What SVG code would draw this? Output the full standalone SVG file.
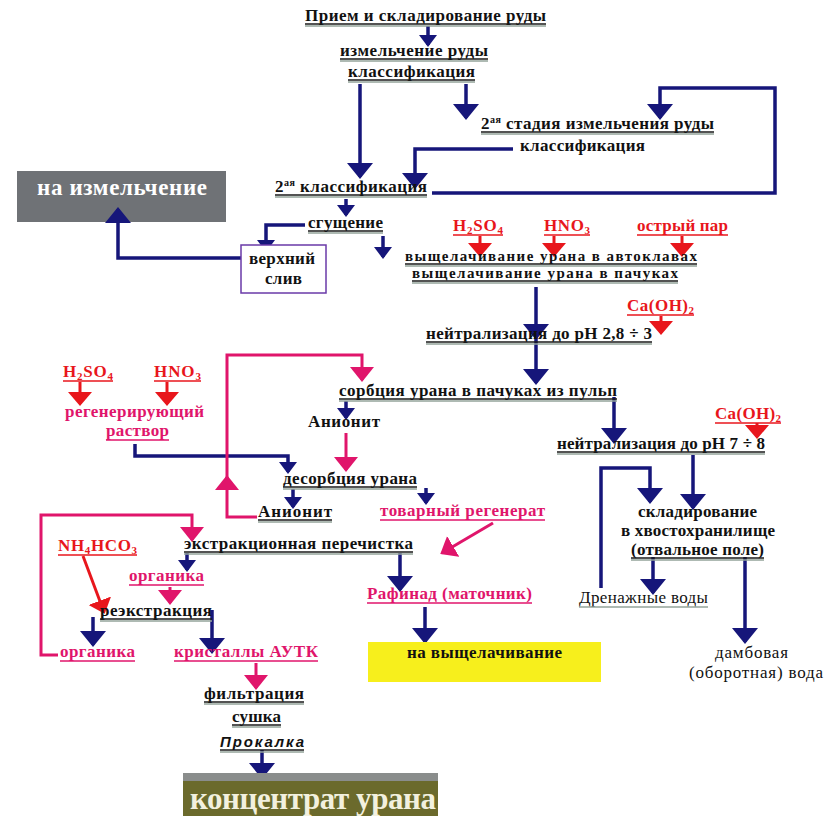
<svg xmlns="http://www.w3.org/2000/svg" width="831" height="835" viewBox="0 0 831 835">
<style>
text{font-family:"Liberation Serif","Times New Roman",serif;font-weight:bold;font-size:17px;fill:#111}
.r{fill:#e8161c}
.p{fill:#e0156b}
.reg{font-weight:normal}
.sm{font-size:15px}
.nl{fill:none;stroke:#16167a;stroke-width:3.5}
.rl{fill:none;stroke:#e8161c;stroke-width:3}
.pl{fill:none;stroke:#e0156b;stroke-width:3}
.ul{stroke:#1a1a1a;stroke-width:1.4}
.us{stroke:#93a39a;stroke-width:1.6}
.ur{stroke:#e8161c;stroke-width:1.4}
.up{stroke:#e0156b;stroke-width:1.4}
</style>
<defs>
<marker id="nb" viewBox="0 -13 16 26" refX="14" refY="0" markerWidth="16" markerHeight="26" markerUnits="userSpaceOnUse" orient="auto"><path d="M0,-13 L16,0 L0,13 z" fill="#16167a"/></marker>
<marker id="ns" viewBox="0 -9 12 18" refX="10" refY="0" markerWidth="12" markerHeight="18" markerUnits="userSpaceOnUse" orient="auto"><path d="M0,-9 L12,0 L0,9 z" fill="#16167a"/></marker>
<marker id="rb" viewBox="0 -12 14 24" refX="12" refY="0" markerWidth="14" markerHeight="24" markerUnits="userSpaceOnUse" orient="auto"><path d="M0,-12 L14,0 L0,12 z" fill="#e8161c"/></marker>
<marker id="pb" viewBox="0 -12 15 24" refX="13" refY="0" markerWidth="15" markerHeight="24" markerUnits="userSpaceOnUse" orient="auto"><path d="M0,-12 L15,0 L0,12 z" fill="#e0156b"/></marker>
</defs>
<rect width="831" height="835" fill="#ffffff"/>

<g id="n-naizm"><rect x="17" y="171" width="209" height="51" fill="#6f7276"/><text x="122" y="195" text-anchor="middle" style="font-size:23px;fill:#ffffff" textLength="170">на измельчение</text></g>

<g id="connectors">
<path class="nl" d="M428,26 V45" marker-end="url(#ns)"/>
<path class="nl" d="M360,84 V177" marker-end="url(#nb)"/>
<path class="nl" d="M466,84 V118" marker-end="url(#nb)"/>
<path class="nl" d="M432,193 H775 V88 H660 V118" marker-end="url(#nb)"/>
<path class="nl" d="M513,149 H415 V187" marker-end="url(#nb)"/>
<path class="nl" d="M346,199 V215" marker-end="url(#ns)"/>
<path class="nl" d="M305,225 H266 V250" marker-end="url(#ns)"/>
<path class="nl" d="M241,258 H118 V209" marker-end="url(#nb)"/>
<path class="nl" d="M383,236 V257" marker-end="url(#ns)"/>
<path class="nl" d="M536,287 V338" marker-end="url(#nb)"/>
<path class="nl" d="M536,338 V383" marker-end="url(#nb)"/>
<path class="nl" d="M346,401 V418" marker-end="url(#ns)"/>
<path class="nl" d="M135,444 V456 H288 V472" marker-end="url(#ns)"/>
<path class="nl" d="M293,489 V507" marker-end="url(#ns)"/>
<path class="nl" d="M426,488 V503" marker-end="url(#ns)"/>
<path class="nl" d="M187,553 V570" marker-end="url(#ns)"/>
<path class="nl" d="M400,553 V590" marker-end="url(#nb)"/>
<path class="nl" d="M425,607 V642" marker-end="url(#nb)"/>
<path class="nl" d="M93,617 V645" marker-end="url(#nb)"/>
<path class="nl" d="M212,610 V652" marker-end="url(#nb)"/>
<path class="nl" d="M262,750 V777" marker-end="url(#nb)"/>
<path class="nl" d="M614,397 V442" marker-end="url(#nb)"/>
<path class="nl" d="M693,455 V508" marker-end="url(#nb)"/>
<path class="nl" d="M601,588 V468 H650 V502" marker-end="url(#nb)"/>
<path class="nl" d="M653,557 V593" marker-end="url(#nb)"/>
<path class="nl" d="M745,557 V642" marker-end="url(#nb)"/>

<path class="rl" d="M480,236 V255" marker-end="url(#rb)"/>
<path class="rl" d="M554,236 V255" marker-end="url(#rb)"/>
<path class="rl" d="M682,236 V255" marker-end="url(#rb)"/>
<path class="rl" d="M661,316 V333" marker-end="url(#rb)"/>
<path class="rl" d="M757,423 V437" marker-end="url(#rb)"/>
<path class="rl" d="M80,382 V404" marker-end="url(#rb)"/>
<path class="rl" d="M167,382 V404" marker-end="url(#rb)"/>
<path class="rl" d="M83,556 L104,612" marker-end="url(#rb)"/>

<path class="pl" d="M257,517 H227 V477" marker-end="url(#pb)"/>
<path class="pl" d="M227,478 V355 H362 V380" marker-end="url(#pb)"/>
<path class="pl" d="M346,433 V470" marker-end="url(#pb)"/>
<path class="pl" d="M493,523 L442,553" marker-end="url(#pb)"/>
<path class="pl" d="M58,655 H41 V515 H192 V540" marker-end="url(#pb)"/>
<path class="pl" d="M170,587 V603" marker-end="url(#pb)"/>
<path class="pl" d="M256,663 V688" marker-end="url(#pb)"/>
</g>

<g id="n-priem"><text x="305" y="21" textLength="241">Прием и складирование руды</text><line class="us" x1="305" y1="26" x2="546" y2="26"/><line class="ul" x1="305" y1="24" x2="546" y2="24"/></g>
<g id="n-izm"><text x="340" y="56" textLength="148">измельчение руды</text><line class="us" x1="340" y1="61" x2="488" y2="61"/><line class="ul" x1="340" y1="59" x2="488" y2="59"/></g>
<g id="n-klass1"><text x="348" y="77" textLength="127">классификация</text><line class="us" x1="348" y1="82" x2="475" y2="82"/><line class="ul" x1="348" y1="80" x2="475" y2="80"/></g>
<g id="n-stage2"><text x="481" y="129" textLength="233">2<tspan font-size="10" dy="-6">ая</tspan><tspan dy="6"> стадия измельчения руды</tspan></text><line class="us" x1="481" y1="134" x2="714" y2="134"/><line class="ul" x1="481" y1="132" x2="714" y2="132"/></g>
<g id="n-klass2"><text x="520" y="151" textLength="125">классификация</text></g>
<g id="n-klass3"><text x="275" y="192" textLength="152">2<tspan font-size="10" dy="-6">ая</tspan><tspan dy="6"> классификация</tspan></text><line class="us" x1="275" y1="197" x2="427" y2="197"/><line class="ul" x1="275" y1="195" x2="427" y2="195"/></g>
<g id="n-sgush"><text x="308" y="228" textLength="75">сгущение</text><line class="us" x1="308" y1="233" x2="383" y2="233"/><line class="ul" x1="308" y1="231" x2="383" y2="231"/></g>
<g id="n-sliv"><rect x="241" y="245" width="85" height="48" fill="#ffffff" stroke="#6a3aa8" stroke-width="1.5"/><text x="249" y="264" textLength="66">верхний</text><text x="265" y="284" textLength="37">слив</text></g>
<g id="n-h2so4a"><text class="r" x="453" y="231" textLength="50">H<tspan font-size="11" dy="3">2</tspan><tspan dy="-3">SO</tspan><tspan font-size="11" dy="3">4</tspan></text><line class="ur" x1="453" y1="235" x2="503" y2="235"/></g>
<g id="n-hno3a"><text class="r" x="544" y="231" textLength="46">HNO<tspan font-size="11" dy="3">3</tspan></text><line class="ur" x1="544" y1="235" x2="590" y2="235"/></g>
<g id="n-par"><text class="r" x="637" y="231" textLength="91">острый пар</text><line class="ur" x1="637" y1="235" x2="728" y2="235"/></g>
<g id="n-vysh"><text class="sm" x="405" y="261" textLength="292">выщелачивание урана в автоклавах</text><line class="us" x1="405" y1="266" x2="697" y2="266"/><line class="ul" x1="405" y1="264" x2="697" y2="264"/><text class="sm" x="412" y="278" textLength="266">выщелачивание урана в пачуках</text><line class="us" x1="412" y1="283" x2="678" y2="283"/><line class="ul" x1="412" y1="281" x2="678" y2="281"/></g>
<g id="n-caoh1"><text class="r" x="627" y="311" textLength="67">Ca(OH)<tspan font-size="11" dy="3">2</tspan></text><line class="ur" x1="627" y1="315" x2="694" y2="315"/></g>
<g id="n-neutr1"><text x="426" y="339" textLength="226">нейтрализация до pH 2,8 ÷ 3</text><line class="us" x1="426" y1="344" x2="652" y2="344"/><line class="ul" x1="426" y1="342" x2="652" y2="342"/></g>
<g id="n-sorb"><text x="339" y="396" textLength="278">сорбция урана в пачуках из пульп</text><line class="us" x1="339" y1="401" x2="617" y2="401"/><line class="ul" x1="339" y1="399" x2="617" y2="399"/></g>
<g id="n-h2so4b"><text class="r" x="63" y="377" textLength="50">H<tspan font-size="11" dy="3">2</tspan><tspan dy="-3">SO</tspan><tspan font-size="11" dy="3">4</tspan></text><line class="ur" x1="63" y1="381" x2="113" y2="381"/></g>
<g id="n-hno3b"><text class="r" x="154" y="377" textLength="47">HNO<tspan font-size="11" dy="3">3</tspan></text><line class="ur" x1="154" y1="381" x2="201" y2="381"/></g>
<g id="n-regen"><text class="p" x="65" y="417" textLength="139">регенерирующий</text><text class="p" x="106" y="436" textLength="63">раствор</text><line class="up" x1="106" y1="440" x2="169" y2="440"/></g>
<g id="n-anion1"><text x="308" y="427" textLength="72">Анионит</text></g>
<g id="n-desorb"><text x="283" y="484" textLength="134">десорбция урана</text><line class="us" x1="283" y1="489" x2="417" y2="489"/><line class="ul" x1="283" y1="487" x2="417" y2="487"/></g>
<g id="n-anion2"><text x="258" y="517" textLength="74">Анионит</text><line class="us" x1="258" y1="522" x2="332" y2="522"/><line class="ul" x1="258" y1="520" x2="332" y2="520"/></g>
<g id="n-tovar"><text class="p" x="380" y="516" textLength="165">товарный регенерат</text><line class="up" x1="380" y1="520" x2="545" y2="520"/></g>
<g id="n-extr"><text x="184" y="549" textLength="229">экстракционная перечистка</text><line class="us" x1="184" y1="554" x2="413" y2="554"/><line class="ul" x1="184" y1="552" x2="413" y2="552"/></g>
<g id="n-nh4"><text class="r" x="58" y="551" textLength="79">NH<tspan font-size="11" dy="3">4</tspan><tspan dy="-3">HCO</tspan><tspan font-size="11" dy="3">3</tspan></text><line class="ur" x1="58" y1="555" x2="137" y2="555"/></g>
<g id="n-org1"><text class="p" x="129" y="581" textLength="75">органика</text><line class="up" x1="129" y1="585" x2="204" y2="585"/></g>
<g id="n-reextr"><text x="100" y="616" textLength="112">реэкстракция</text><line class="us" x1="100" y1="621" x2="212" y2="621"/><line class="ul" x1="100" y1="619" x2="212" y2="619"/></g>
<g id="n-org2"><text class="p" x="60" y="657" textLength="75">органика</text><line class="up" x1="60" y1="661" x2="135" y2="661"/></g>
<g id="n-aytk"><text class="p" x="174" y="657" textLength="144">кристаллы АУТК</text><line class="up" x1="174" y1="661" x2="318" y2="661"/></g>
<g id="n-filtr"><text x="204" y="699" textLength="100">фильтрация</text><line class="us" x1="204" y1="704" x2="304" y2="704"/><line class="ul" x1="204" y1="702" x2="304" y2="702"/></g>
<g id="n-sush"><text x="232" y="722" textLength="49">сушка</text><line class="us" x1="232" y1="727" x2="281" y2="727"/><line class="ul" x1="232" y1="725" x2="281" y2="725"/></g>
<g id="n-prok"><text x="220" y="747" textLength="84" style="font-family:'Liberation Sans',Arial,sans-serif;font-style:italic;font-size:15px">Прокалка</text><line class="us" x1="220" y1="752" x2="304" y2="752"/><line class="ul" x1="220" y1="750" x2="304" y2="750"/></g>
<g id="n-konc"><rect x="183" y="773" width="255" height="43" fill="#6b6a2c"/><rect x="183" y="773" width="255" height="8" fill="#8a8d8c"/><text x="190" y="809" textLength="246" style="font-size:31px;fill:#f2f0de">концентрат урана</text></g>
<g id="n-rafinad"><text class="p" x="367" y="599" textLength="165">Рафинад (маточник)</text><line class="up" x1="367" y1="603" x2="532" y2="603"/></g>
<g id="n-navysh"><rect x="368" y="642" width="233" height="40" fill="#f7ef1c"/><text x="407" y="658" textLength="155">на выщелачивание</text></g>
<g id="n-caoh2"><text class="r" x="715" y="419" textLength="66">Ca(OH)<tspan font-size="11" dy="3">2</tspan></text><line class="ur" x1="715" y1="423" x2="781" y2="423"/></g>
<g id="n-neutr2"><text x="557" y="449" textLength="208">нейтрализация до pH 7 ÷ 8</text><line class="us" x1="557" y1="454" x2="765" y2="454"/><line class="ul" x1="557" y1="452" x2="765" y2="452"/></g>
<g id="n-sklad"><text x="638" y="517" textLength="119">складирование</text><text x="621" y="536" textLength="154">в хвостохранилище</text><text x="631" y="555" textLength="133">(отвальное поле)</text><line class="us" x1="631" y1="560" x2="764" y2="560"/><line class="ul" x1="631" y1="558" x2="764" y2="558"/></g>
<g id="n-dren"><text class="reg" x="579" y="603" textLength="129">Дренажные воды</text><line class="us" x1="579" y1="607" x2="708" y2="607"/></g>
<g id="n-damb"><text class="reg" x="715" y="658" textLength="73">дамбовая</text><text class="reg" x="689" y="678" textLength="134">(оборотная) вода</text></g>
</svg>
